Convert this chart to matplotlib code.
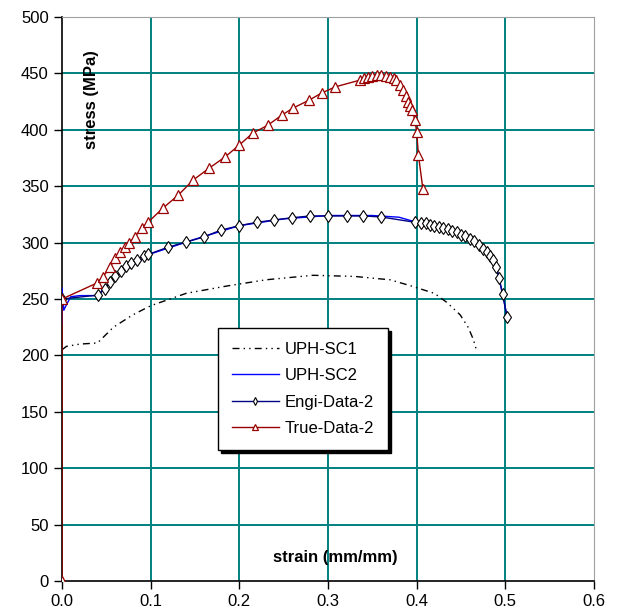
import numpy as np
import matplotlib
matplotlib.use("Agg")
import matplotlib.pyplot as plt

plt.rcParams['font.family'] = ['Liberation Sans', 'DejaVu Sans']

# UPH-SC1 (dash-dot, black)
sc1_strain = [0.0, 0.005, 0.02, 0.04, 0.058, 0.08, 0.1, 0.14, 0.186, 0.23,
              0.283, 0.33, 0.37, 0.392, 0.42, 0.434, 0.449, 0.458, 0.464, 0.468]
sc1_stress = [205, 208, 210, 211, 225, 236, 244, 255, 261.5, 267,
              271, 270, 267, 262, 255, 247, 236, 225, 214, 203]

# UPH-SC2 (blue line)
sc2_strain = [0.0, 0.0, 0.002, 0.005, 0.01, 0.02, 0.04, 0.06, 0.1, 0.15, 0.2,
              0.25, 0.3, 0.35, 0.38, 0.4, 0.43, 0.46, 0.48, 0.49, 0.497, 0.502]
sc2_stress = [229, 260, 240, 245, 252, 253, 253, 270, 290, 303, 315,
              321, 324, 324, 322.5, 318, 313, 303, 290, 278, 254, 234]

# Engi-Data-2 (navy, diamonds)
engi_strain = [0.0, 0.041, 0.048, 0.054, 0.06, 0.066, 0.072, 0.078, 0.085, 0.092,
               0.097, 0.12, 0.14, 0.16, 0.179, 0.2, 0.22, 0.239, 0.259, 0.28,
               0.3, 0.321, 0.34, 0.36, 0.398, 0.405, 0.41, 0.415, 0.42, 0.425,
               0.43, 0.435, 0.44, 0.445, 0.45, 0.455, 0.46, 0.465, 0.47, 0.475,
               0.479, 0.483, 0.486, 0.49, 0.493, 0.497, 0.502]
engi_stress = [250, 253.5, 259, 265, 270, 275, 279, 282, 285, 288,
               289.5, 296, 300.5, 305, 311, 315, 318, 320, 322, 323.6,
               323.6, 323.6, 323.6, 322.7, 318, 317.5, 317, 316, 315, 314,
               313, 312, 310.5, 309, 307, 305.5, 303.5, 301, 298, 294.5,
               291.6, 288, 284.6, 278, 268.6, 254, 234]

# True-Data-2 (dark red, triangles)
true_strain = [0.0, 0.0, 0.039, 0.046, 0.054, 0.06, 0.065, 0.071, 0.076, 0.082,
               0.09, 0.097, 0.114, 0.131, 0.148, 0.166, 0.184, 0.2, 0.215, 0.232,
               0.248, 0.26, 0.278, 0.293, 0.308, 0.336, 0.341, 0.345, 0.35, 0.355,
               0.36, 0.365, 0.37, 0.374, 0.377, 0.381, 0.385, 0.388, 0.39, 0.393,
               0.395, 0.398, 0.4, 0.402, 0.407]
true_stress = [0, 250, 264, 269.5, 278, 286, 291.6, 296, 300, 305,
               313, 318, 330.7, 342, 355.5, 366, 376, 386.5, 397, 404,
               413, 419, 426, 432.6, 438, 444, 446, 447, 448, 449,
               448.6, 448, 447, 446, 444, 440, 435, 430, 425, 421,
               417.5, 408.6, 398, 377.6, 347.5]

x_ticks = [0.0, 0.1, 0.2, 0.3, 0.4, 0.5, 0.6]
y_ticks = [0, 50, 100, 150, 200, 250, 300, 350, 400, 450, 500]

fig = plt.figure(figsize=(6.19, 6.15), dpi=100)
ax = fig.add_axes([0.1002, 0.0553, 0.8594, 0.9171])

grid_c = '#008080'
for x in x_ticks[1:-1]:
    ax.axvline(x, color=grid_c, lw=1.4, zorder=0)
for y in y_ticks[1:-1]:
    ax.axhline(y, color=grid_c, lw=1.4, zorder=0)

ax.plot(sc1_strain, sc1_stress, color='black', lw=1.0, dashes=(5, 3, 1, 3, 1, 3),
        label='UPH-SC1', zorder=3)
ax.plot(sc2_strain, sc2_stress, color='#0000FF', lw=1.0, label='UPH-SC2', zorder=3)
ax.plot(engi_strain, engi_stress, color='#000080', lw=1.0, marker='d', ms=6,
        mfc='white', mec='black', mew=0.8, label='Engi-Data-2', zorder=4)
ax.plot(true_strain, true_stress, color='#990000', lw=1.0, marker='^', ms=7,
        mfc='white', mec='#990000', mew=0.9, label='True-Data-2', zorder=4)

ax.set_xlim(0, 0.6)
ax.set_ylim(0, 500)
ax.set_xticks(x_ticks)
ax.set_yticks(y_ticks)
ax.set_xticklabels([f"{v:.1f}" for v in x_ticks])
ax.tick_params(direction='out', length=6, width=1, labelsize=12, colors='black')

for s in ['top', 'right']:
    ax.spines[s].set_color('#a0a0a0')
for s in ['left', 'bottom']:
    ax.spines[s].set_color('black')
    ax.spines[s].set_linewidth(1.2)

ax.text(0.056, 0.853, 'stress (MPa)', transform=ax.transAxes, rotation=90,
        fontsize=12, fontweight='bold', ha='center', va='center')
ax.text(0.514, 0.041, 'strain (mm/mm)', transform=ax.transAxes,
        fontsize=12, fontweight='bold', ha='center', va='center')

leg = ax.legend(loc='upper left', bbox_to_anchor=(0.293, 0.449), fontsize=12,
                frameon=True, fancybox=False, shadow={'color': 'black', 'alpha': 1},
                edgecolor='black', framealpha=1, handlelength=2.8,
                handletextpad=0.35, labelspacing=0.68, borderpad=0.85,
                borderaxespad=0, markerscale=0.7)
leg.get_frame().set_linewidth(1.0)

fig.savefig('out.png', dpi=100)
